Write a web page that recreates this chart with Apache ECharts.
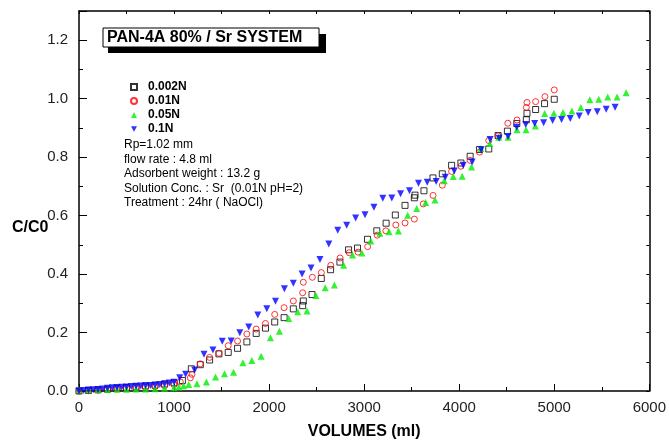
<!DOCTYPE html>
<html>
<head>
<meta charset="utf-8">
<script src="https://cdn.jsdelivr.net/npm/echarts@6/dist/echarts.min.js"></script>
<style>
  html, body { margin: 0; padding: 0; background: #fff; }
  #chart { width: 669px; height: 445px; }
</style>
</head>
<body>
<div id="chart"></div>
<script>
// 0.002N
const vol002 = [0,100,200,300,400,500,600,700,800,900,1000,1088,1182,1276,1374,1472,1570,1668,1766,1864,1962,2059,2158,2255,2353,2360,2451,2549,2647,2745,2836,2930,3035,3133,3231,3328,3430,3528,3535,3629,3724,3822,3920,4018,4115,4213,4311,4409,4507,4606,4706,4713,4804,4898,5000];
const c002 = [0.000,0.002,0.004,0.006,0.009,0.012,0.014,0.017,0.020,0.024,0.028,0.036,0.076,0.090,0.106,0.127,0.132,0.146,0.168,0.197,0.215,0.236,0.251,0.281,0.292,0.308,0.330,0.385,0.415,0.441,0.483,0.489,0.519,0.548,0.574,0.602,0.635,0.661,0.670,0.685,0.729,0.743,0.772,0.780,0.803,0.826,0.828,0.874,0.889,0.915,0.928,0.950,0.963,0.983,0.998];
// 0.01N
const vol001 = [0,100,200,300,400,500,600,700,800,900,1000,1066,1171,1189,1276,1374,1472,1570,1668,1766,1864,1962,2059,2158,2255,2353,2360,2455,2550,2649,2747,2843,2936,3037,3137,3228,3333,3430,3528,3622,3725,3822,3920,4018,4115,4214,4311,4409,4511,4608,4706,4713,4804,4902,5000];
const c001 = [0.000,0.001,0.003,0.005,0.007,0.009,0.011,0.013,0.015,0.018,0.022,0.031,0.045,0.057,0.093,0.115,0.129,0.155,0.171,0.195,0.212,0.231,0.262,0.285,0.308,0.336,0.372,0.389,0.405,0.430,0.455,0.473,0.475,0.494,0.533,0.548,0.568,0.575,0.588,0.640,0.669,0.704,0.751,0.769,0.789,0.817,0.857,0.873,0.916,0.927,0.970,0.987,0.990,1.007,1.030];
// 0.05N
const vol005 = [0,100,200,300,400,500,600,700,800,900,1000,1050,1100,1154,1241,1340,1437,1531,1626,1724,1818,1916,2014,2108,2206,2301,2399,2493,2590,2687,2784,2878,2976,3070,3165,3262,3360,3458,3553,3647,3745,3843,3937,4031,4130,4227,4322,4416,4514,4608,4703,4801,4899,4996,5091,5185,5280,5374,5468,5563,5661,5756];
const c005 = [0.004,0.004,0.005,0.005,0.006,0.006,0.007,0.007,0.008,0.009,0.011,0.014,0.018,0.022,0.025,0.031,0.048,0.059,0.064,0.097,0.104,0.119,0.182,0.204,0.248,0.271,0.274,0.327,0.353,0.363,0.430,0.465,0.472,0.513,0.540,0.545,0.547,0.601,0.624,0.645,0.653,0.719,0.734,0.735,0.766,0.830,0.847,0.868,0.868,0.894,0.894,0.907,0.949,0.950,0.953,0.958,0.970,0.996,0.998,1.006,1.006,1.020];
// 0.1N
const vol01 = [0,50,100,150,200,250,300,350,400,450,500,550,600,650,700,750,800,850,900,950,1000,1059,1122,1217,1315,1409,1507,1601,1692,1786,1881,1976,2067,2161,2255,2347,2441,2535,2628,2722,2816,2910,3009,3103,3196,3291,3383,3477,3572,3664,3758,3853,3948,4042,4136,4231,4325,4419,4514,4605,4700,4794,4888,4983,5077,5168,5263,5357,5452,5546,5640];
const c01 = [0.000,0.002,0.003,0.004,0.005,0.007,0.009,0.011,0.012,0.013,0.014,0.015,0.016,0.017,0.018,0.019,0.020,0.022,0.024,0.027,0.030,0.045,0.057,0.072,0.126,0.140,0.170,0.171,0.199,0.219,0.260,0.281,0.307,0.350,0.369,0.400,0.421,0.450,0.503,0.550,0.567,0.592,0.603,0.629,0.659,0.660,0.675,0.685,0.711,0.714,0.717,0.731,0.753,0.772,0.783,0.825,0.860,0.865,0.871,0.902,0.912,0.915,0.918,0.925,0.929,0.932,0.941,0.953,0.955,0.964,0.971];

const seriesNames = ['0.002N', '0.01N', '0.05N', '0.1N'];
const titleText = 'PAN-4A 80% / Sr SYSTEM';
const infoLines = [
  'Rp=1.02 mm',
  'flow rate : 4.8 ml',
  'Adsorbent weight : 13.2 g',
  'Solution Conc. : Sr  (0.01N pH=2)',
  'Treatment : 24hr ( NaOCl)'
];

const font = 'Arial, "Liberation Sans", sans-serif';
const pairs = (xs, ys) => xs.map((x, i) => [x, ys[i]]);

const chart = echarts.init(document.getElementById('chart'));

const frameAxis = {
  axisLine: { onZero: false, lineStyle: { color: '#000', width: 1.5 } },
  axisLabel: { show: false },
  axisTick: { inside: true, length: 3, lineStyle: { color: '#000' } },
  minorTick: { show: true, splitNumber: 2, length: 3, lineStyle: { color: '#000' } },
  splitLine: { show: false }
};

const option = {
  animation: false,
  backgroundColor: '#fff',
  textStyle: { fontFamily: font },
  grid: { left: 79, right: 18, top: 11, bottom: 51 },
  xAxis: [
    {
      type: 'value',
      min: 0, max: 6000, interval: 1000,
      name: 'VOLUMES (ml)',
      nameLocation: 'middle',
      nameGap: 33,
      nameTextStyle: { fontFamily: font, fontWeight: 'bold', fontSize: 16, color: '#000' },
      axisLine: { onZero: false, lineStyle: { color: '#000', width: 1.5 } },
      axisTick: { inside: true, length: 7, lineStyle: { color: '#000' } },
      minorTick: { show: true, splitNumber: 2, length: 4, lineStyle: { color: '#000' } },
      axisLabel: { fontFamily: font, fontSize: 15, color: '#222', margin: 9, formatter: v => String(v) },
      splitLine: { show: false }
    },
    Object.assign({ type: 'value', position: 'top', min: 0, max: 6000, interval: 1000 }, frameAxis)
  ],
  yAxis: [
    {
      type: 'value',
      min: 0, max: 1.3, interval: 0.2,
      axisLine: { onZero: false, lineStyle: { color: '#000', width: 1.5 } },
      axisTick: { inside: true, length: 8, lineStyle: { color: '#000' } },
      minorTick: { show: true, splitNumber: 2, length: 4, lineStyle: { color: '#000' } },
      axisLabel: {
        fontFamily: font, fontSize: 15, color: '#222', margin: 11,
        showMaxLabel: false,
        formatter: v => v.toFixed(1)
      },
      splitLine: { show: false }
    },
    Object.assign({ type: 'value', position: 'right', min: 0, max: 1.3, interval: 0.2 }, frameAxis)
  ],
  legend: {
    orient: 'vertical',
    left: 125,
    top: 75,
    itemWidth: 6,
    itemHeight: 6,
    itemGap: 0,
    textStyle: { fontFamily: font, fontWeight: 'bold', fontSize: 12, color: '#000', lineHeight: 14, padding: [0, 0, 0, 6] },
    data: [
      seriesNames[0],
      seriesNames[1],
      seriesNames[2],
      { name: seriesNames[3], icon: 'path://M0,0L10,0L5,9Z' }
    ]
  },
  series: [
    {
      name: seriesNames[0], type: 'scatter', data: pairs(vol002, c002),
      symbol: 'rect', symbolSize: 6,
      itemStyle: { color: 'rgba(255,255,255,0)', borderColor: '#000', borderWidth: 1 },
      emphasis: { disabled: true }
    },
    {
      name: seriesNames[1], type: 'scatter', data: pairs(vol001, c001),
      symbol: 'circle', symbolSize: 6,
      itemStyle: { color: 'rgba(255,255,255,0)', borderColor: '#ff0000', borderWidth: 1 },
      emphasis: { disabled: true }
    },
    {
      name: seriesNames[2], type: 'scatter', data: pairs(vol005, c005),
      symbol: 'triangle', symbolSize: 7,
      itemStyle: { color: '#00ee00' },
      emphasis: { disabled: true }
    },
    {
      name: seriesNames[3], type: 'scatter', data: pairs(vol01, c01),
      symbol: 'triangle', symbolSize: 7, symbolRotate: 180,
      itemStyle: { color: '#0000ff' },
      emphasis: { disabled: true }
    }
  ],
  graphic: [
    { type: 'rect', shape: { x: 108, y: 34, width: 218, height: 19 }, style: { fill: '#000' } },
    { type: 'rect', shape: { x: 103, y: 28, width: 216, height: 19 }, style: { fill: '#fff', stroke: '#000', lineWidth: 1 } },
    { type: 'text', x: 107, y: 38, style: { text: titleText, font: 'bold 16px ' + font, fill: '#000', verticalAlign: 'middle' } },
    { type: 'text', x: 12, y: 228, style: { text: 'C/C0', font: 'bold 16px ' + font, fill: '#000', verticalAlign: 'middle' } }
  ].concat(infoLines.map((t, i) => ({
    type: 'text', x: 124, y: 145 + i * 14.5,
    style: { text: t, font: '12px ' + font, fill: '#000', verticalAlign: 'middle' }
  })))
};

chart.setOption(option);
</script>
</body>
</html>
